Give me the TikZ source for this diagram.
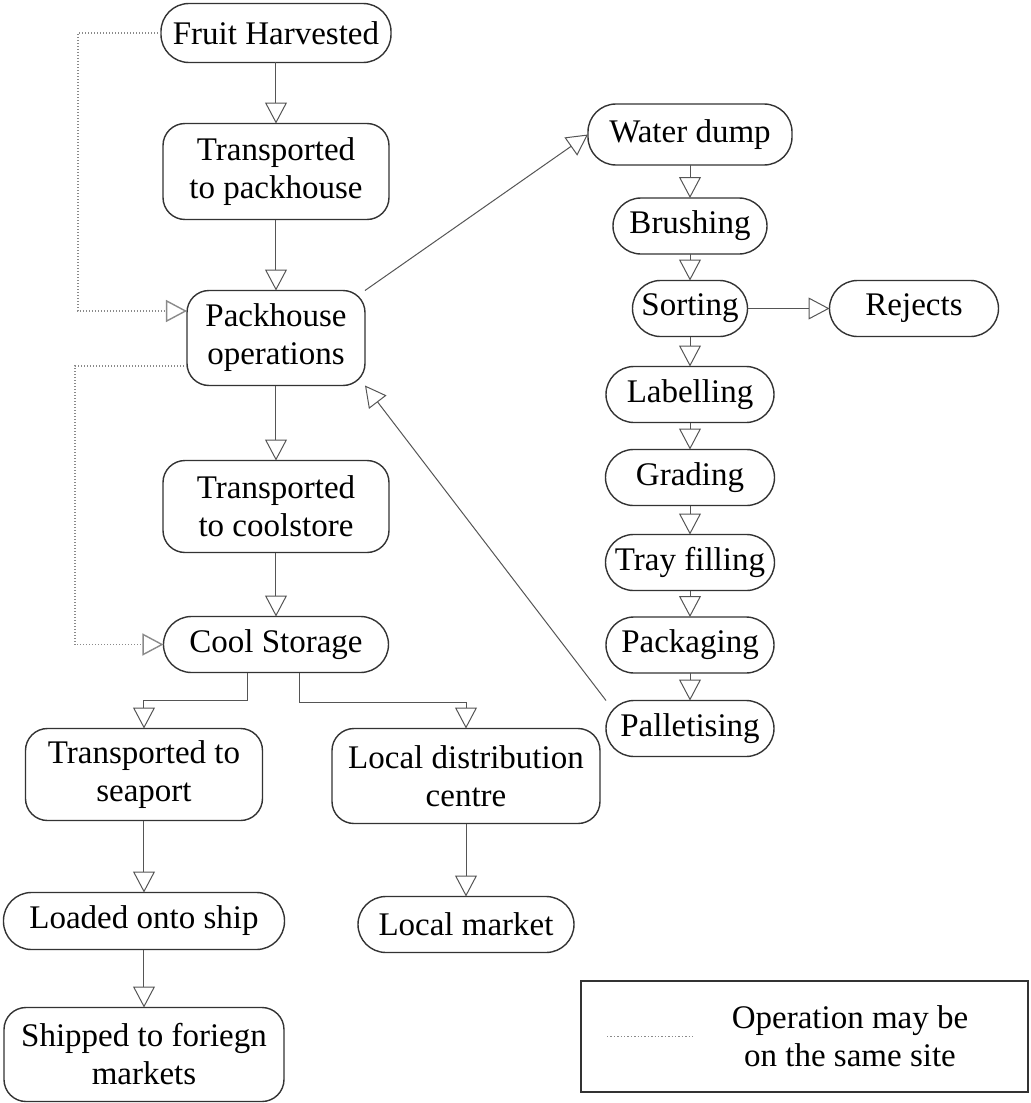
\documentclass[tikz,border=0pt]{standalone}
\usepackage{fontspec}
\setmainfont{Liberation Serif}
\usepackage{xcolor}
\definecolor{packLine}{HTML}{333333}
\definecolor{packArrow}{HTML}{555555}
\definecolor{packDots}{HTML}{8A8A8A}
\usetikzlibrary{arrows.meta,positioning}
\tikzset{
    stage/.style={
        draw=packLine,
        fill=white,
        rectangle,
        rounded corners=14pt,
        align=center,
        minimum height=28pt,
        inner sep=0pt,
        outer sep=0pt,
        line width=0.7pt,
        font=\fontsize{16.5pt}{19pt}\selectfont
    },
    bigstage/.style={
        stage,
        rounded corners=11pt,
        minimum height=47pt
    },
    flow/.style={
        -{Triangle[open,length=10.5pt,width=11pt]},
        line width=0.5pt,
        color=packArrow
    },
    samesite/.style={
        flow,
        densely dotted,
        line width=0.7pt,
        color=packDots
    },
    keybox/.style={
        draw=packLine,
        rectangle,
        outer sep=0pt,
        line width=0.6pt,
        minimum width=223.5pt,
        minimum height=55.5pt
    },
    keytext/.style={
        align=center,
        font=\fontsize{16.5pt}{19pt}\selectfont
    }
}

\begin{document}
\begin{tikzpicture}
    \useasboundingbox (-138pt,16.5pt) rectangle (377pt,-535pt);

    % Main line from the orchard
    \node[stage, minimum width=115pt, minimum height=29.5pt] (harvest) {Fruit Harvested};
    \node[bigstage, minimum width=113pt, minimum height=48pt, below=30.5pt of harvest] (toPack) {Transported\\to packhouse};
    \node[bigstage, minimum width=89pt, minimum height=47.5pt, below=35.5pt of toPack] (packOps) {Packhouse\\operations};
    \node[bigstage, minimum width=113pt, minimum height=46pt, below=37.5pt of packOps] (toCool) {Transported\\to coolstore};
    \node[stage, minimum width=112.5pt, below=32pt of toCool] (cool) {Cool Storage};

    % Export and local branches
    \node[bigstage, minimum width=118.5pt, minimum height=46pt, below=28pt of cool, xshift=-66pt] (seaport) {Transported to\\seaport};
    \node[bigstage, minimum width=134pt, minimum height=47.5pt, below=28pt of cool, xshift=95pt] (distrib) {Local distribution\\centre};
    \node[stage, minimum width=140.5pt, minimum height=28.5pt, below=36pt of seaport] (ship) {Loaded onto ship};
    \node[bigstage, minimum width=140pt, minimum height=47pt, below=29pt of ship] (foreign) {Shipped to foriegn\\markets};
    \node[stage, minimum width=108pt, below=36.5pt of distrib] (market) {Local market};

    % Packhouse steps
    \node[stage, minimum width=102pt, minimum height=30.5pt, above right=62.75pt and 111.5pt of packOps] (water) {Water dump};
    \node[stage, minimum width=77pt, below=16.5pt of water] (brush) {Brushing};
    \node[stage, minimum width=57.5pt, below=13.25pt of brush] (sorting) {Sorting};
    \node[stage, minimum width=84.5pt, right=41pt of sorting] (rejects) {Rejects};
    \node[stage, minimum width=84pt, below=15pt of sorting] (labelling) {Labelling};
    \node[stage, minimum width=84.5pt, below=13.5pt of labelling] (grading) {Grading};
    \node[stage, minimum width=84.5pt, below=14.5pt of grading] (tray) {Tray filling};
    \node[stage, minimum width=84pt, below=13.25pt of tray] (packaging) {Packaging};
    \node[stage, minimum width=84pt, below=13.75pt of packaging] (pallet) {Palletising};

    % Legend
    \node[keybox, below right=14.25pt and 3.5pt of market] (legend) {};
    \node[keytext] (legendText) at ([xshift=22.75pt]legend.center) {Operation may be\\on the same site};
    \coordinate[right=13pt of legend.west] (keyL);
    \coordinate[right=43pt of keyL] (keyR);

    % Arrows
    \draw[flow] (harvest) -- (toPack);
    \draw[flow] (toPack) -- (packOps);
    \draw[flow] (packOps) -- (toCool);
    \draw[flow] (toCool) -- (cool);
    \draw[flow] ([xshift=-14pt]cool.south) -- ++(0,-14pt) -| (seaport.north);
    \draw[flow] ([xshift=12pt]cool.south) -- ++(0,-15pt) -| (distrib.north);
    \draw[flow] (seaport) -- (ship);
    \draw[flow] (ship) -- (foreign);
    \draw[flow] (distrib) -- (market);
    \draw[flow] (packOps.north east) -- (water.west);
    \draw[flow] (water) -- (brush);
    \draw[flow] (brush) -- (sorting);
    \draw[flow] (sorting) -- (rejects);
    \draw[flow] (sorting) -- (labelling);
    \draw[flow] (labelling) -- (grading);
    \draw[flow] (grading) -- (tray);
    \draw[flow] (tray) -- (packaging);
    \draw[flow] (packaging) -- (pallet);
    \draw[flow] (pallet.north west) -- (packOps.south east);

    % Same site links
    \draw[samesite] (harvest.west) -- ++(-41.5pt,0) |- ([yshift=13.5pt]packOps.west);
    \draw[samesite] ([yshift=-14pt]packOps.west) -- ++(-56pt,0) |- (cool.west);
    \draw[densely dotted, line width=0.7pt, packDots] (keyL) -- (keyR);
\end{tikzpicture}
\end{document}
